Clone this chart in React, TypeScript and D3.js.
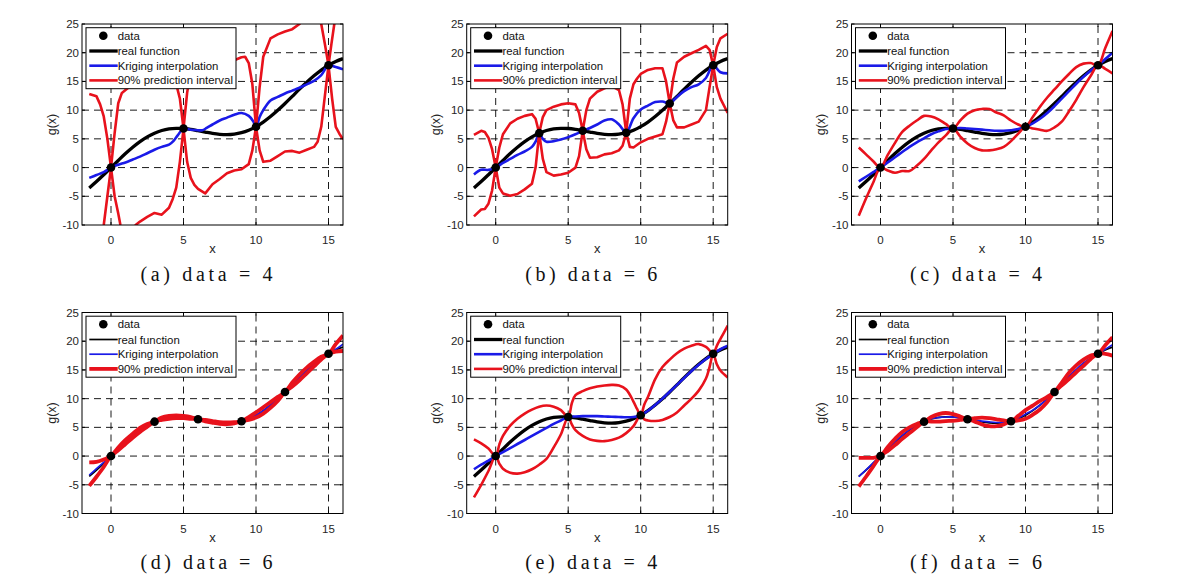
import React from 'react';
import * as d3 from 'd3';

type Pt = [number, number];

const X_DOMAIN: [number, number] = [-2, 16];
const Y_DOMAIN: [number, number] = [-10, 25];
const xTicks = [0, 5, 10, 15];
const yTicks = [-10, -5, 0, 5, 10, 15, 20, 25];
const legendLabels = ['data', 'real function', 'Kriging interpolation', '90% prediction interval'];
const captions = ['(a)  data = 4', '(b)  data = 6', '(c)  data = 4', '(d)  data = 6', '(e)  data = 4', '(f)  data = 6'];

// real function g(x)
const realX = [-1.5, -1, -0.5, 0, 0.5, 1, 1.5, 2, 2.5, 3, 3.5, 4, 4.5, 5, 5.5, 6, 6.5, 7, 7.5, 8, 8.5, 9, 9.5, 10, 10.5, 11, 11.5, 12, 12.5, 13, 13.5, 14, 14.5, 15, 15.5, 16];
const realY = [-3.54, -2.44, -1.24, 0, 1.24, 2.44, 3.54, 4.52, 5.35, 5.99, 6.45, 6.73, 6.83, 6.8, 6.65, 6.42, 6.18, 5.95, 5.79, 5.73, 5.82, 6.07, 6.5, 7.12, 7.92, 8.88, 9.97, 11.16, 12.4, 13.65, 14.85, 15.97, 16.97, 17.81, 18.48, 18.97];

// sample data points
const data4X = [0, 5, 10, 15];
const data4Y = [0, 6.8, 7.12, 17.81];
const data6X = [0, 3, 6, 9, 12, 15];
const data6Y = [0, 5.99, 6.42, 6.07, 11.16, 17.81];

// (a)
const krigA: Pt[] = [[-1.5,-1.8],[-1,-1.3],[-0.5,-0.8],[0,0],[0.5,0.5],[1,0.9],[1.5,1.4],[2,1.9],[2.5,2.5],[3,3.1],[3.5,3.6],[4,4.0],[4.3,4.6],[4.6,5.6],[5,6.8],[5.5,6.6],[6,6.5],[6.3,6.5],[6.6,6.9],[7,7.5],[7.5,8.2],[8,8.7],[8.5,9.2],[9,9.5],[9.5,9.0],[9.8,8.1],[10,7.1],[10.25,8.8],[10.5,10.0],[11,11.7],[11.5,12.3],[12,12.9],[12.5,13.4],[13,13.9],[13.5,14.5],[14,15.1],[14.5,16.1],[15,17.8],[15.5,17.5],[16,17.1]];
const upperA: Pt[] = [[-1.5,12.8],[-1,12.4],[-0.75,11],[-0.5,8.9],[-0.25,5],[0,0],[0.25,6],[0.5,11.2],[0.75,13],[1,13.5],[1.5,14.5],[2,16],[3,17],[4,16],[4.5,14.5],[4.75,12],[5,6.8],[5.25,13],[5.5,17],[6,19],[7,19.5],[8,19],[8.5,18.7],[9,19.2],[9.25,19.3],[9.5,18.2],[9.75,14.5],[10,7.1],[10.25,14],[10.5,19.3],[11,22.5],[11.5,23.2],[12,23.7],[12.5,24.1],[13,25],[13.5,26.5],[14,27],[14.5,25],[14.75,21.5],[15,17.8],[15.2,21.5],[15.4,25],[15.7,29],[16,32]];
const lowerA: Pt[] = [[-1.5,-25],[-1,-18],[-0.5,-10],[-0.25,-5],[0,0],[0.25,-5],[0.5,-8],[0.65,-10],[1,-13],[1.4,-12],[1.7,-10],[2,-9.4],[2.5,-8.6],[3,-7.9],[3.5,-8.2],[4,-7.0],[4.25,-5.5],[4.5,-3.5],[4.75,1],[5,6.8],[5.25,1],[5.5,-1.8],[5.75,-3],[6,-3.7],[6.5,-4.5],[7,-2.9],[7.5,-2.0],[8,-1.0],[8.5,-0.5],[9,-0.3],[9.5,0.6],[9.75,3],[10,7.1],[10.25,3],[10.5,1.0],[11,1.2],[11.5,2.0],[12,2.8],[12.5,2.9],[13,2.6],[13.5,3.1],[14,3.6],[14.25,4.5],[14.5,7.1],[14.75,12.5],[15,17.8],[15.25,12],[15.5,7.1],[15.75,5.9],[16,4.9]];

// (b)
const krigB: Pt[] = [[-1.5,-1.2],[-1,-0.4],[-0.5,-0.4],[0,0],[0.5,0.8],[1,1.5],[1.5,2.2],[2,2.8],[2.5,3.6],[2.75,4.5],[3,6.0],[3.25,5.0],[3.5,4.5],[4,4.6],[4.5,4.9],[5,5.3],[5.5,5.8],[6,6.4],[6.5,6.9],[7,7.5],[7.5,8.2],[8,8.4],[8.5,7.5],[9,6.1],[9.5,8.6],[10,10.1],[10.5,10.8],[11,11.4],[11.5,11.5],[12,11.2],[12.5,12.3],[13,13.3],[13.5,14.0],[14,14.5],[14.5,15.6],[15,17.8],[15.5,16.6],[16,16.4]];
const upperB: Pt[] = [[-1.5,5.7],[-1,6.4],[-0.75,6.2],[-0.5,5.2],[-0.25,3.2],[0,0],[0.25,3.5],[0.5,5.8],[1,7.7],[1.5,8.5],[2,9.0],[2.5,9.3],[2.75,8.5],[3,6.0],[3.25,8.8],[3.5,10],[4,10.6],[4.5,11.0],[5,11.2],[5.5,11.0],[5.75,9.5],[6,6.4],[6.25,10],[6.5,12.0],[7,13.2],[7.5,13.8],[8,14.2],[8.5,13.5],[8.75,11],[9,6.1],[9.25,12],[9.5,14.5],[9.75,15.5],[10,16.3],[10.5,17.0],[11,17.3],[11.5,17.3],[11.75,15],[12,11.2],[12.25,15.5],[12.5,18.3],[13,19.3],[13.5,19.9],[14,20.5],[14.5,21.2],[14.75,20.5],[15,17.8],[15.25,21],[15.5,22.5],[16,23.3]];
const lowerB: Pt[] = [[-1.5,-8.5],[-1,-7.3],[-0.75,-7.2],[-0.5,-6.3],[-0.25,-4],[0,0],[0.25,-3.5],[0.5,-4.5],[1,-4.9],[1.5,-4.6],[2,-3.8],[2.5,-2.8],[2.75,0],[3,6.0],[3.25,1.5],[3.5,-0.8],[4,-1.4],[4.5,-1.2],[5,-0.9],[5.5,0],[5.75,2],[6,6.4],[6.25,3.2],[6.5,1.7],[7,1.8],[7.5,2.3],[8,2.5],[8.5,3.0],[8.75,3.8],[9,6.1],[9.25,3.6],[9.5,3.5],[10,4.4],[10.5,5.0],[11,5.4],[11.5,5.8],[11.75,8],[12,11.2],[12.25,8.2],[12.5,7.0],[13,7.0],[13.5,7.5],[14,8.0],[14.5,10],[14.75,14],[15,17.8],[15.25,14],[15.5,12],[16,9.5]];

// (c)
const krigC: Pt[] = [[-1.5,-2.4],[-1,-1.6],[-0.5,-0.8],[0,0],[0.5,0.9],[1,1.8],[1.5,2.7],[2,3.6],[2.5,4.4],[3,5.1],[3.5,5.8],[4,6.3],[4.5,6.7],[5,6.8],[5.5,6.9],[6,6.8],[6.5,6.7],[7,6.6],[7.5,6.5],[8,6.4],[8.5,6.4],[9,6.5],[9.5,6.7],[10,7.12],[10.5,7.7],[11,8.5],[11.5,9.5],[12,10.7],[12.5,12.0],[13,13.3],[13.5,14.6],[14,15.8],[14.5,16.9],[15,17.8],[15.5,18.9],[16,20.0]];
const upperC: Pt[] = [[-1.5,3.5],[-1,2.3],[-0.5,1.1],[0,0],[0.5,2.2],[1,4.3],[1.5,6.2],[2,7.3],[2.5,8.2],[3,9.0],[3.5,8.9],[4,8.4],[4.5,7.6],[5,6.8],[5.5,8.2],[6,9.4],[6.5,10.0],[7,10.2],[7.5,10.2],[8,9.6],[8.5,9.1],[9,8.2],[9.5,7.5],[10,7.12],[10.5,8.8],[11,10.6],[11.5,12.2],[12,13.6],[12.5,15.0],[13,16.3],[13.5,17.5],[14,18.1],[14.5,18.2],[15,17.81],[15.5,20.8],[16,23.8]];
const lowerC: Pt[] = [[-1.5,-8.4],[-1,-5.4],[-0.5,-2.6],[0,0],[0.5,-0.5],[1,-0.9],[1.5,-0.6],[2,-0.6],[2.5,0.3],[3,1.5],[3.5,3.0],[4,4.4],[4.5,5.6],[5,6.8],[5.5,5.4],[6,4.2],[6.5,3.4],[7,3.0],[7.5,3.0],[8,3.2],[8.5,3.6],[9,4.6],[9.5,5.9],[10,7.12],[10.5,6.8],[11,6.6],[11.5,6.4],[12,7.0],[12.5,8.0],[13,9.8],[13.5,11.8],[14,14.0],[14.5,16.0],[15,17.81],[15.5,17.2],[16,16.4]];

// (d)
const krigD: Pt[] = [[-1.5,-3.3],[-1,-2.2],[-0.5,-1.1],[0,0],[0.5,1.2],[1,2.4],[1.5,3.5],[2,4.5],[2.5,5.4],[3,5.99],[3.5,6.5],[4,6.8],[4.5,6.9],[5,6.85],[5.5,6.7],[6,6.42],[6.5,6.2],[7,5.95],[7.5,5.8],[8,5.75],[8.5,5.85],[9,6.07],[9.5,6.5],[10,7.1],[10.5,7.9],[11,8.9],[11.5,10.0],[12,11.16],[12.5,12.4],[13,13.7],[13.5,14.9],[14,16.0],[14.5,17.0],[15,17.81],[15.5,18.6],[16,19.5]];
const upperD: Pt[] = [[-1.5,-1.1],[-1,-1.0],[-0.5,-0.6],[0,0],[0.5,1.5],[1,2.8],[1.5,3.9],[2,4.9],[2.5,5.6],[3,5.99],[3.5,6.7],[4,7.0],[4.5,7.1],[5,7.0],[5.5,6.8],[6,6.42],[6.5,6.3],[7,6.1],[7.5,5.9],[8,5.85],[8.5,5.9],[9,6.07],[9.5,6.8],[10,7.6],[10.5,8.5],[11,9.4],[11.5,10.3],[12,11.16],[12.5,12.8],[13,14.2],[13.5,15.4],[14,16.4],[14.5,17.3],[15,17.81],[15.5,19.5],[16,21.0]];
const lowerD: Pt[] = [[-1.5,-5.2],[-1,-3.6],[-0.5,-1.9],[0,0],[0.5,1.0],[1,2.1],[1.5,3.2],[2,4.2],[2.5,5.1],[3,5.99],[3.5,6.3],[4,6.5],[4.5,6.6],[5,6.6],[5.5,6.5],[6,6.42],[6.5,6.05],[7,5.8],[7.5,5.6],[8,5.55],[8.5,5.7],[9,6.07],[9.5,6.3],[10,6.7],[10.5,7.4],[11,8.4],[11.5,9.6],[12,11.16],[12.5,12.1],[13,13.2],[13.5,14.4],[14,15.6],[14.5,16.8],[15,17.81],[15.5,18.2],[16,18.3]];

// (e)
const krigE: Pt[] = [[-1.5,-2.3],[-1,-1.5],[-0.5,-0.8],[0,0],[0.5,0.7],[1,1.4],[1.5,2.1],[2,2.8],[2.5,3.5],[3,4.2],[3.5,4.9],[4,5.6],[4.5,6.2],[5,6.8],[5.5,6.9],[6,6.95],[6.5,6.95],[7,6.95],[7.5,6.9],[8,6.85],[8.5,6.8],[9,6.75],[9.5,6.8],[10,7.1],[10.5,7.9],[11,8.9],[11.5,10.0],[12,11.2],[12.5,12.4],[13,13.6],[13.5,14.8],[14,15.9],[14.5,16.9],[15,17.8],[15.5,18.6],[16,19.2]];
const upperE: Pt[] = [[-1.5,2.9],[-1,2.2],[-0.5,1.3],[0,0],[0.25,2],[0.5,3.5],[1,5.3],[1.5,6.5],[2,7.4],[2.5,8.1],[3,8.6],[3.5,8.8],[4,8.6],[4.5,8.0],[5,6.8],[5.25,9.2],[5.5,10.6],[6,11.3],[6.5,11.8],[7,12.1],[7.5,12.3],[8,12.4],[8.5,12.3],[9,11.6],[9.5,9.5],[9.75,8.2],[10,7.1],[10.25,9.0],[10.5,10.3],[11,13.4],[11.5,15.5],[12,16.8],[12.5,17.9],[13,18.7],[13.5,19.2],[14,19.5],[14.5,19.0],[14.75,18.4],[15,17.8],[15.25,19.2],[15.5,20.4],[16,22.7]];
const lowerE: Pt[] = [[-1.5,-7.2],[-1,-5.0],[-0.5,-2.6],[0,0],[0.25,-1.3],[0.5,-2.2],[1,-2.9],[1.5,-3.05],[2,-2.8],[2.5,-2.3],[3,-1.5],[3.5,-0.5],[4,1.5],[4.5,3.8],[5,6.8],[5.25,5.5],[5.5,4.5],[6,3.5],[6.5,2.9],[7,2.65],[7.5,2.6],[8,2.8],[8.5,3.2],[9,4.0],[9.5,5.2],[10,7.1],[10.25,6.4],[10.5,6.2],[11,6.1],[11.5,6.3],[12,6.8],[12.5,7.6],[13,8.8],[13.5,10.0],[14,11.4],[14.5,13.5],[14.75,15.5],[15,17.8],[15.25,16],[15.5,14.9],[16,13.7]];

// (f)
const krigF: Pt[] = [[-1.5,-3.6],[-1,-2.4],[-0.5,-1.2],[0,0],[0.5,1.3],[1,2.5],[1.5,3.6],[2,4.6],[2.5,5.4],[3,5.99],[3.5,6.5],[4,6.7],[4.5,6.8],[5,6.8],[5.5,6.6],[6,6.42],[6.5,6.25],[7,6.1],[7.5,5.95],[8,5.85],[8.5,5.9],[9,6.07],[9.5,6.6],[10,7.3],[10.5,8.0],[11,8.9],[11.5,9.9],[12,11.16],[12.5,12.5],[13,13.9],[13.5,15.1],[14,16.2],[14.5,17.1],[15,17.81],[15.5,18.6],[16,19.4]];
const upperF: Pt[] = [[-1.5,-0.3],[-1,-0.3],[-0.5,-0.3],[0,0],[0.5,1.6],[1,3.0],[1.5,4.2],[2,5.0],[2.5,5.6],[3,5.99],[3.5,6.8],[4,7.3],[4.5,7.5],[5,7.3],[5.5,6.9],[6,6.42],[6.5,6.6],[7,6.7],[7.5,6.6],[8,6.4],[8.5,6.2],[9,6.07],[9.5,7.0],[10,8.0],[10.5,8.8],[11,9.6],[11.5,10.3],[12,11.16],[12.5,12.8],[13,14.5],[13.5,15.8],[14,16.8],[14.5,17.5],[15,17.81],[15.5,19.3],[16,20.7]];
const lowerF: Pt[] = [[-1.5,-5.3],[-1,-3.6],[-0.5,-1.8],[0,0],[0.5,0.9],[1,1.9],[1.5,3.0],[2,4.0],[2.5,5.0],[3,5.99],[3.5,6.0],[4,6.0],[4.5,6.1],[5,6.15],[5.5,6.3],[6,6.42],[6.5,6.0],[7,5.5],[7.5,5.2],[8,5.2],[8.5,5.5],[9,6.07],[9.5,6.2],[10,6.5],[10.5,7.2],[11,8.1],[11.5,9.4],[12,11.16],[12.5,12.3],[13,13.4],[13.5,14.6],[14,15.7],[14.5,16.9],[15,17.81],[15.5,17.8],[16,17.5]];

const panels = [
  { id: 'a', n: 4, krig: krigA, upper: upperA, lower: lowerA, thin: false, jagged: true },
  { id: 'b', n: 6, krig: krigB, upper: upperB, lower: lowerB, thin: false, jagged: true },
  { id: 'c', n: 4, krig: krigC, upper: upperC, lower: lowerC, thin: false, jagged: false },
  { id: 'd', n: 6, krig: krigD, upper: upperD, lower: lowerD, thin: true, jagged: false },
  { id: 'e', n: 4, krig: krigE, upper: upperE, lower: lowerE, thin: false, jagged: false },
  { id: 'f', n: 6, krig: krigF, upper: upperF, lower: lowerF, thin: true, jagged: false },
];

const RED = '#e8121c';
const BLUE = '#1a1ae8';
const BLACK = '#000';

function Panel({ p, idx, left, top, w, h }: any) {
  const x = d3.scaleLinear().domain(X_DOMAIN).range([left, left + w]);
  const y = d3.scaleLinear().domain(Y_DOMAIN).range([top + h, top]);
  const smooth = d3.curveCatmullRom.alpha(0.5);
  const mk = (curve: any) => d3.line<Pt>().x(d => x(d[0])).y(d => y(d[1])).curve(curve);
  const smoothLine = mk(smooth);
  const redLine = p.jagged ? mk(d3.curveLinear) : smoothLine;
  const realPts: Pt[] = realX.map((v, i) => [v, realY[i]]);
  const dots: Pt[] = p.n === 4 ? data4X.map((v, i) => [v, data4Y[i]]) : data6X.map((v, i) => [v, data6Y[i]]);
  const sw = p.thin ? { black: 1.7, blue: 1.7, red: 3.8 } : { black: 3.3, blue: 2.6, red: 2.6 };
  const clipId = `clip-${p.id}`;
  const x0 = x(X_DOMAIN[0]), x1 = x(X_DOMAIN[1]);
  const y0 = y(Y_DOMAIN[0]), y1 = y(Y_DOMAIN[1]);
  const lx = left + 4, ly = top + 3.7, lw = 150, lh = 61;
  const rowOff = [8, 23.3, 38, 52.7];
  const legendStyles = [
    null,
    { c: BLACK, w: sw.black },
    { c: BLUE, w: sw.blue },
    { c: RED, w: sw.red },
  ];
  return (
    <g>
      <defs>
        <clipPath id={clipId}>
          <rect x={x0} y={y1} width={x1 - x0} height={y0 - y1} />
        </clipPath>
      </defs>
      <rect x={x0} y={y1} width={x1 - x0} height={y0 - y1} fill="#fff" />
      {/* grid */}
      {xTicks.map(t => (
        <line key={'gx' + t} x1={x(t)} x2={x(t)} y1={y0} y2={y1} stroke="#000" strokeWidth={0.9} strokeDasharray="7,5" />
      ))}
      {yTicks.filter(t => t > Y_DOMAIN[0] && t < Y_DOMAIN[1]).map(t => (
        <line key={'gy' + t} x1={x0} x2={x1} y1={y(t)} y2={y(t)} stroke="#000" strokeWidth={0.9} strokeDasharray="7,5" />
      ))}
      <g clipPath={`url(#${clipId})`}>
        <path d={smoothLine(realPts) || ''} fill="none" stroke={BLACK} strokeWidth={sw.black} strokeLinejoin="round" />
        <path d={smoothLine(p.krig) || ''} fill="none" stroke={BLUE} strokeWidth={sw.blue} strokeLinejoin="round" />
        <path d={redLine(p.upper) || ''} fill="none" stroke={RED} strokeWidth={sw.red} strokeLinejoin="round" />
        <path d={redLine(p.lower) || ''} fill="none" stroke={RED} strokeWidth={sw.red} strokeLinejoin="round" />
        {dots.map((d, i) => (
          <circle key={i} cx={x(d[0])} cy={y(d[1])} r={4.3} fill="#000" />
        ))}
      </g>
      {/* ticks */}
      {xTicks.map(t => (
        <g key={'tx' + t}>
          <line x1={x(t)} x2={x(t)} y1={y0} y2={y0 - 3} stroke="#000" />
          <line x1={x(t)} x2={x(t)} y1={y1} y2={y1 + 3} stroke="#000" />
          <text x={x(t)} y={y0 + 19} textAnchor="middle" fontSize={11.5} fill="#262626">{t}</text>
        </g>
      ))}
      {yTicks.map(t => (
        <g key={'ty' + t}>
          <line x1={x0} x2={x0 + 3} y1={y(t)} y2={y(t)} stroke="#000" />
          <line x1={x1} x2={x1 - 3} y1={y(t)} y2={y(t)} stroke="#000" />
          <text x={x0 - 3} y={y(t) + 4} textAnchor="end" fontSize={11.5} fill="#262626">{t}</text>
        </g>
      ))}
      <rect x={x0} y={y1} width={x1 - x0} height={y0 - y1} fill="none" stroke="#000" strokeWidth={1} />
      <text x={(x0 + x1) / 2} y={y0 + 28} textAnchor="middle" fontSize={13} fill="#262626">x</text>
      <text transform={`translate(${x0 - 26.5},${(y0 + y1) / 2}) rotate(-90)`} textAnchor="middle" fontSize={12.5} fill="#262626">g(x)</text>
      {/* legend */}
      <rect x={lx} y={ly} width={lw} height={lh} fill="#fff" stroke="#000" strokeWidth={1} />
      {legendLabels.map((lab, i) => {
        const cy = ly + rowOff[i];
        const st = legendStyles[i];
        return (
          <g key={lab}>
            {i === 0 ? (
              <circle cx={lx + 17.3} cy={cy} r={4.3} fill="#000" />
            ) : (
              <line x1={lx + 3.3} x2={lx + 31.7} y1={cy} y2={cy} stroke={st!.c} strokeWidth={st!.w} />
            )}
            <text x={lx + 31.7} y={cy + 4} fontSize={11.4} fill="#111">{lab}</text>
          </g>
        );
      })}
      <text x={(x0 + x1) / 2 - 6} y={y0 + 55.5} textAnchor="middle" fontSize={20}
        fontFamily="'Liberation Serif', 'DejaVu Serif', serif" textLength={132} lengthAdjust="spacing" fill="#111">
        {captions[idx]}
      </text>
    </g>
  );
}

export default function App() {
  const W = 1181, H = 578;
  const cols = [82, 466.7, 851.5];
  const rows = [24, 312.5];
  const pw = 261, ph = 201;
  return (
    <svg width={W} height={H} style={{ position: 'absolute', left: 0, top: 0, background: '#fff' }}
      fontFamily="'Liberation Sans', Arial, sans-serif">
      <rect width={W} height={H} fill="#fff" />
      {panels.map((p, i) => (
        <Panel key={p.id} p={p} idx={i} left={cols[i % 3]} top={rows[Math.floor(i / 3)]} w={pw} h={ph} />
      ))}
    </svg>
  );
}
